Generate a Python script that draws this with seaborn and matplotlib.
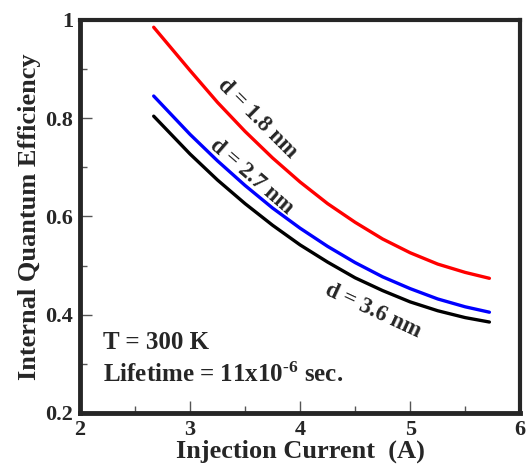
import seaborn as sns
import matplotlib.pyplot as plt
import pandas as pd
from matplotlib.ticker import MultipleLocator

# injection current (A)
current = [2.67, 3.0, 3.25, 3.5, 3.75, 4.0, 4.25, 4.5, 4.75, 5.0, 5.25, 5.5, 5.72]

# internal quantum efficiency
iqe_18 = [0.985, 0.897, 0.832, 0.773, 0.719, 0.670, 0.626, 0.588, 0.554, 0.526, 0.503, 0.486, 0.474]
iqe_27 = [0.845, 0.767, 0.713, 0.663, 0.617, 0.576, 0.539, 0.506, 0.477, 0.453, 0.432, 0.416, 0.405]
iqe_36 = [0.804, 0.727, 0.674, 0.626, 0.582, 0.542, 0.507, 0.475, 0.449, 0.426, 0.408, 0.394, 0.385]

labels = ['d = 1.8 nm', 'd = 2.7 nm', 'd = 3.6 nm']
colors = ['#ff0000', '#0000ff', '#000000']

df = pd.concat([
    pd.DataFrame({'I': current, 'IQE': iqe_18, 'd': labels[0]}),
    pd.DataFrame({'I': current, 'IQE': iqe_27, 'd': labels[1]}),
    pd.DataFrame({'I': current, 'IQE': iqe_36, 'd': labels[2]}),
])

sns.set_style('ticks')
plt.rcParams['font.family'] = ['Liberation Serif', 'DejaVu Serif']
plt.rcParams['font.weight'] = 'bold'
plt.rcParams['mathtext.fontset'] = 'custom'
plt.rcParams['mathtext.rm'] = 'Liberation Serif:bold'
plt.rcParams['mathtext.bf'] = 'Liberation Serif:bold'
plt.rcParams['mathtext.default'] = 'bf'

fig, ax = plt.subplots(figsize=(5.26, 4.73), dpi=100)
fig.subplots_adjust(left=0.152, right=0.989, bottom=0.127, top=0.958)

sns.lineplot(data=df, x='I', y='IQE', hue='d', palette=dict(zip(labels, colors)),
             linewidth=2.4, legend=False, ax=ax)

ax.set_xlim(2, 6)
ax.set_ylim(0.2, 1.0)
ax.xaxis.set_major_locator(MultipleLocator(1))
ax.xaxis.set_minor_locator(MultipleLocator(0.5))
ax.yaxis.set_major_locator(MultipleLocator(0.2))
ax.yaxis.set_minor_locator(MultipleLocator(0.1))
ax.yaxis.set_major_formatter(plt.FuncFormatter(lambda v, p: '1' if abs(v - 1) < 1e-6 else f'{v:.1f}'))

ax.tick_params(which='major', direction='in', length=8.5, width=1.0, color='#555555',
               labelsize=16, top=False, right=False)
ax.tick_params(which='minor', direction='in', length=5, width=1.0, color='#555555',
               top=False, right=False)
ax.tick_params(axis='x', pad=5)
ax.tick_params(axis='y', pad=5)

for side in ['left', 'bottom']:
    ax.spines[side].set_linewidth(3.5)
for side in ['top', 'right']:
    ax.spines[side].set_linewidth(3.0)

ax.set_xlabel('Injection Current  (A)', fontsize=19, fontweight='bold', labelpad=0)
ax.set_ylabel('Internal Quantum Efficiency', fontsize=19, fontweight='bold', labelpad=3)

ax.text(3.61, 0.80, labels[0], rotation=-45, fontsize=16.5, fontweight='bold',
        ha='center', va='center')
ax.text(3.555, 0.68, labels[1], rotation=-41, fontsize=16.5, fontweight='bold',
        ha='center', va='center')
ax.text(4.66, 0.407, labels[2], rotation=-25, fontsize=16.5, fontweight='bold',
        ha='center', va='center')

ax.text(2.21, 0.344, 'T = 300 K', fontsize=18, fontweight='bold', va='center')
ax.text(2.21, 0.277, 'Lifetime = 11x10$^{\\text{-6}}$ sec.', fontsize=18, fontweight='bold', va='center')

fig.savefig('out.png', dpi=100)
